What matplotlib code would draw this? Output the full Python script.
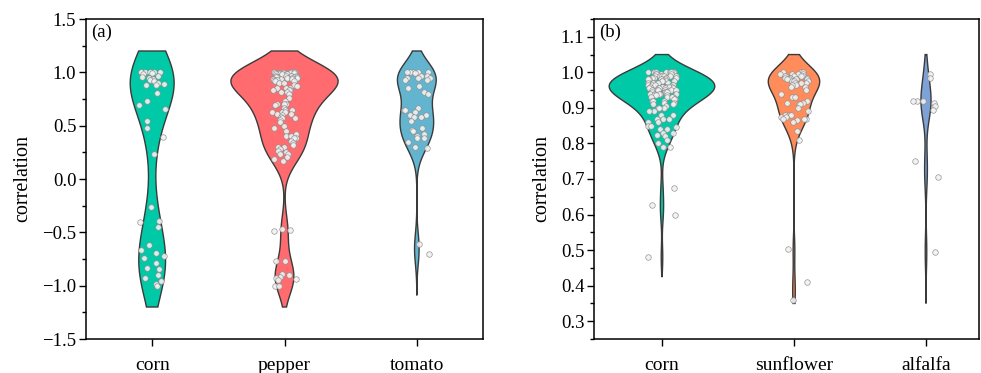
import numpy as np
import matplotlib
matplotlib.use("Agg")
import matplotlib.pyplot as plt

plt.rcParams['font.family'] = ['Liberation Serif', 'DejaVu Serif']
plt.rcParams['axes.unicode_minus'] = True

# ---- data ----
cats_a = ["corn", "pepper", "tomato"]
corn_a = [1.0, 1.0, 1.0, 1.0, 1.0, 1.0, 0.99, 0.98, 0.97, 0.96, 0.95, 0.94, 0.93, 0.92,
          0.90, 0.89, 0.88, 0.88, 0.81, 0.73, 0.69, 0.66, 0.54, 0.48, 0.39, 0.23,
          -0.26, -0.39, -0.40, -0.45, -0.62, -0.67, -0.69, -0.72, -0.74, -0.79, -0.83,
          -0.84, -0.90, -0.93, -0.96, -0.98, -1.0]
pepper_a = ([1.0] * 6 + [0.99] * 6 + [0.98] * 5 + [0.97] * 5 + [0.96] * 4 + [0.95] * 4
            + [0.94] * 3 + [0.93] * 3 + [0.92] * 2 + [0.90] * 2
            + [0.88, 0.87, 0.85, 0.85, 0.85, 0.83, 0.83, 0.83, 0.82, 0.82, 0.80, 0.76, 0.73,
               0.70, 0.70, 0.70, 0.69, 0.67, 0.65, 0.65, 0.63, 0.63, 0.63, 0.61, 0.61, 0.60,
               0.58, 0.57, 0.57, 0.55, 0.53, 0.50, 0.48, 0.45, 0.42, 0.40, 0.40, 0.38, 0.38,
               0.36, 0.34, 0.32, 0.30, 0.30, 0.28, 0.26, 0.25, 0.23, 0.23, 0.21, 0.19, 0.17,
               -0.47, -0.48, -0.49, -0.77, -0.77, -0.89, -0.90, -0.92, -0.93, -0.94, -0.95,
               -1.0, -1.0])
tomato_a = [1.0, 1.0, 1.0, 1.0, 1.0, 0.99, 0.97, 0.97, 0.95, 0.95, 0.95, 0.93, 0.93,
            0.87, 0.85, 0.82, 0.80, 0.67, 0.65, 0.65, 0.63, 0.60, 0.60, 0.58, 0.58, 0.54,
            0.48, 0.46, 0.45, 0.42, 0.40, 0.38, 0.38, 0.35, 0.30, 0.29, -0.61, -0.70]

cats_b = ["corn", "sunflower", "alfalfa"]
corn_b = ([1.0] * 8 + [0.995] * 4 + [0.99] * 6 + [0.985] * 4 + [0.98] * 5 + [0.975] * 4
          + [0.97] * 6 + [0.965] * 5 + [0.96] * 7 + [0.955] * 5 + [0.95] * 6 + [0.945] * 4
          + [0.94] * 5 + [0.935] * 3 + [0.93] * 4 + [0.925] * 2 + [0.92] * 3 + [0.915] * 2
          + [0.91, 0.91, 0.905, 0.90, 0.90, 0.90, 0.89, 0.89, 0.88, 0.88, 0.87, 0.87, 0.87,
             0.86, 0.86, 0.85, 0.85, 0.845, 0.84, 0.84, 0.83, 0.83, 0.825, 0.82, 0.81,
             0.80, 0.79, 0.79, 0.675, 0.628, 0.60, 0.48])
sunflower_b = ([1.0] * 3 + [0.995] * 4 + [0.99] * 5 + [0.985] * 4 + [0.98] * 4 + [0.975] * 3
               + [0.97] * 3 + [0.965] * 2 + [0.96] * 2
               + [0.95, 0.94, 0.93, 0.93, 0.92, 0.915, 0.915, 0.91, 0.91, 0.90, 0.89,
                  0.88, 0.88, 0.88, 0.875, 0.875, 0.87, 0.87, 0.87, 0.865, 0.86, 0.835,
                  0.81, 0.503, 0.41, 0.36])
alfalfa_b = [0.995, 0.985, 0.92, 0.92, 0.918, 0.915, 0.905, 0.895, 0.75, 0.705, 0.495]

# violin extent (lower, upper) and kernel bandwidth per group
cut_a = [(-1.2, 1.2), (-1.2, 1.2), (-1.09, 1.2)]
bw_a = [0.28, 0.15, 0.14]
cut_b = [(0.425, 1.05), (0.35, 1.05), (0.35, 1.05)]
bw_b = [0.035, 0.038, 0.05]

colors_a = ["#00C9A7", "#FF6B6F", "#63B4CF"]
colors_b = ["#00C9A7", "#FF8C5A", "#7EA2D6"]


def kde(vals, grid, bw):
    v = np.asarray(vals)[:, None]
    return np.exp(-0.5 * ((grid[None, :] - v) / bw) ** 2).sum(axis=0)


def violin_panel(ax, groups, cuts, bws, colors, maxw, jw, seed):
    rng = np.random.default_rng(seed)
    nmax = max(len(v) for v in groups)
    for i, (vals, (lo, hi), bw, c) in enumerate(zip(groups, cuts, bws, colors)):
        pos = i + 1
        g = np.linspace(lo, hi, 400)
        d = kde(vals, g, bw)
        # width scaled by group size
        w = d / d.max() * maxw * len(vals) / nmax
        xs = np.concatenate([pos - w, (pos + w)[::-1]])
        ys = np.concatenate([g, g[::-1]])
        ax.fill(xs, ys, facecolor=c, edgecolor="#3a3a3a", linewidth=1.0, zorder=2)
        jit = rng.uniform(-jw, jw, len(vals))
        ax.scatter(pos + jit, vals, s=16, facecolor="#f2f2f2", edgecolor="#8a8a8a",
                   linewidth=0.5, alpha=0.9, zorder=3)


fig = plt.figure(figsize=(9.81, 3.73), dpi=100)
ax1 = fig.add_axes([86 / 981, 34 / 373, 397 / 981, 320 / 373])
ax2 = fig.add_axes([594 / 981, 34 / 373, 385 / 981, 320 / 373])

violin_panel(ax1, [corn_a, pepper_a, tomato_a], cut_a, bw_a, colors_a, 0.405, 0.1, 3)
violin_panel(ax2, [corn_b, sunflower_b, alfalfa_b], cut_b, bw_b, colors_b, 0.40, 0.11, 7)

ax1.set_ylim(-1.5, 1.5)
ax1.set_xlim(0.5, 3.5)
ax1.set_yticks(np.arange(-1.5, 1.51, 0.5))
ax1.set_yticks(np.arange(-1.5, 1.51, 0.25), minor=True)
ax1.set_yticklabels([f"{v:.1f}".replace("-", "\u2212") for v in np.arange(-1.5, 1.51, 0.5)])

ax2.set_ylim(0.25, 1.15)
ax2.set_xlim(0.485, 3 + 53 / 132)
ax2.set_yticks(np.arange(0.3, 1.11, 0.1))
ax2.set_yticks(np.arange(0.25, 1.16, 0.05), minor=True)
ax2.set_yticklabels([f"{v:.1f}" for v in np.arange(0.3, 1.11, 0.1)])

for ax, cats, tag in [(ax1, cats_a, "(a)"), (ax2, cats_b, "(b)")]:
    ax.set_xticks([1, 2, 3])
    ax.set_xticklabels(cats, fontsize=14)
    ax.tick_params(axis="y", which="major", direction="out", length=5, width=1, labelsize=13.5, pad=2)
    ax.tick_params(axis="y", which="minor", direction="out", length=3, width=1)
    ax.tick_params(axis="x", which="major", direction="out", length=5, width=1, pad=8)
    for s in ax.spines.values():
        s.set_linewidth(1.1)
    ax.set_ylabel("correlation", fontsize=14.5, labelpad=7)
    ax.text(0.014, 0.985, tag, transform=ax.transAxes, ha="left", va="top", fontsize=13.5)

fig.savefig("out.png", dpi=100)
